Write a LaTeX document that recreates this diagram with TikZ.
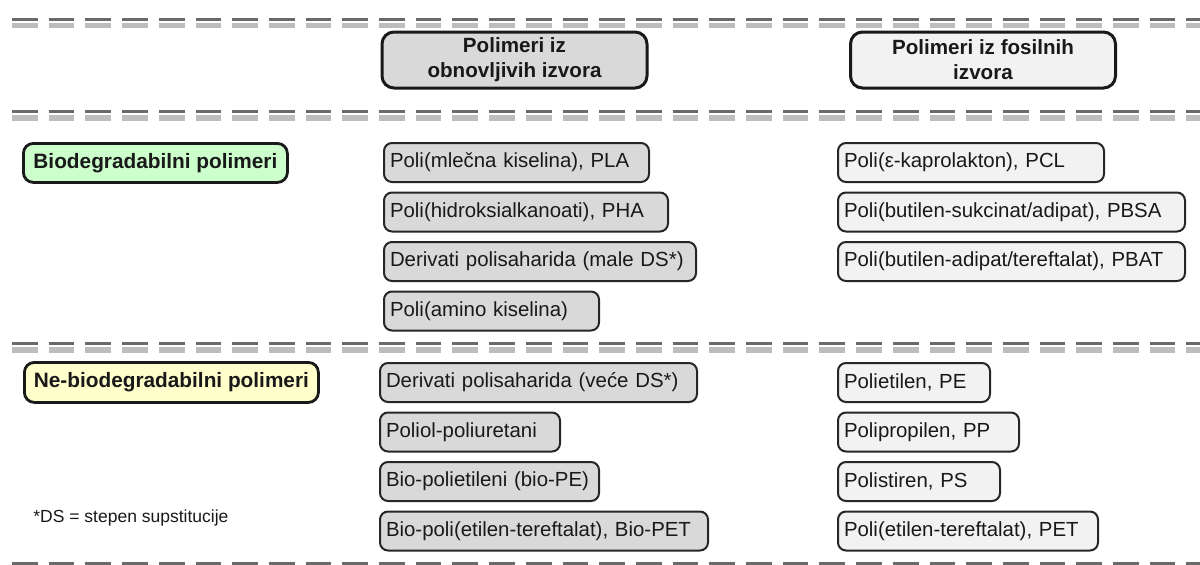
\documentclass[tikz,border=0pt]{standalone}
\usepackage{fontspec}
\setmainfont{Liberation Sans}
\usepackage{tikz}
\usetikzlibrary{positioning}
\definecolor{renfill}{HTML}{D9D9D9}
\definecolor{fosfill}{HTML}{F2F2F2}
\definecolor{biofill}{HTML}{CCFFCC}
\definecolor{nbiofill}{HTML}{FFFFCC}
\definecolor{ruledark}{HTML}{6A6A6A}
\definecolor{rulelight}{HTML}{BDBDBD}
\tikzset{
  polynode/.style = {inner sep=0pt, text=black!90,
    font=\fontsize{10.2}{12}\selectfont},
  item_r/.style = {polynode, rectangle, rounded corners=4pt, draw=black!85,
    line width=1pt, fill=renfill, inner xsep=3pt, minimum height=19.5pt,
    text width=#1, align=left, anchor=north west},% stavka, obnovljivi izvori
  item_f/.style = {item_r=#1, fill=fosfill},% stavka, fosilni izvori
  head_r/.style = {polynode, rectangle, rounded corners=6pt, draw=black!90,
    line width=1.5pt, fill=renfill, minimum width=132.5pt, minimum height=28pt,
    align=center, font=\bfseries\fontsize{10.3}{12.5}\selectfont},% zaglavlje, obnovljivi
  head_f/.style = {head_r, fill=fosfill},% zaglavlje, fosilni
  cat_b/.style = {polynode, rectangle, rounded corners=5pt, draw=black!90,
    line width=1.4pt, fill=biofill, minimum height=19.5pt, anchor=north west,
    font=\bfseries\fontsize{10.4}{12}\selectfont},% kategorija, biodegradabilni
  cat_n/.style = {cat_b, fill=nbiofill},% kategorija, ne-biodegradabilni
  rule_hi/.style = {draw=ruledark, line width=1.5pt,
    dash pattern=on 12.85pt off 5.5pt},
  rule_lo/.style = {draw=rulelight, line width=2.6pt,
    dash pattern=on 12.85pt off 5.5pt}
}
\begin{document}
\begin{tikzpicture}[x=0.5pt,y=-0.5pt]
        \useasboundingbox (0,0) rectangle (1200,564);
        % razdelne linije
        \foreach \ry in {19,111.5,343.5,563}{
            \draw [rule_lo] (12,\ry+6.5) -- (1200,\ry+6.5);
            \draw [rule_hi] (12,\ry) -- (1200,\ry);
        }
        % zaglavlja
        \node [head_r] (hren) at (514.5,60) {Polimeri iz\\obnovljivih izvora};
        \node [head_f] (hfos) at (983,60) {Polimeri iz fosilnih\\izvora};
        % kategorije
        \node [cat_b, minimum width=132pt] (bio) at (22,142) {Biodegradabilni polimeri};
        \node [cat_n, minimum width=147pt, minimum height=20pt] (nbio) at (23,361)
            {Ne-biodegradabilni polimeri};
        \node [polynode, anchor=west, font=\fontsize{8.75}{10}\selectfont] (dsnote)
            at (33,518) {*DS = stepen supstitucije};
        % biodegradabilni, obnovljivi
        \node [item_r=126.5pt] (pla) at (383,142) {Poli(mlečna kiselina), PLA};
            \node [item_r=136pt, below=4.25pt of pla.south west, anchor=north west] (pha)
                {Poli(hidroksialkanoati), PHA};
                \node [item_r=150pt, below=4.25pt of pha.south west, anchor=north west] (dsmale)
                    {Derivati polisaharida (male DS*)};
                    \node [item_r=101.5pt, below=4.25pt of dsmale.south west, anchor=north west] (amino)
                        {Poli(amino kiselina)};
        % biodegradabilni, fosilni
        \node [item_f=127pt] (pcl) at (837,142) {Poli(ε-kaprolakton), PCL};
            \node [item_f=167.5pt, below=4.25pt of pcl.south west, anchor=north west] (pbsa)
                {Poli(butilen-sukcinat/adipat), PBSA};
                \node [item_f=167.5pt, below=4.25pt of pbsa.south west, anchor=north west] (pbat)
                    {Poli(butilen-adipat/tereftalat), PBAT};
        % ne-biodegradabilni, obnovljivi
        \node [item_r=152.5pt] (dsvece) at (379,362) {Derivati polisaharida (veće DS*)};
            \node [item_r=84pt, below=4.25pt of dsvece.south west, anchor=north west] (ppu)
                {Poliol-poliuretani};
                \node [item_r=103.5pt, below=4.25pt of ppu.south west, anchor=north west] (biope)
                    {Bio-polietileni (bio-PE)};
                    \node [item_r=158pt, below=4.25pt of biope.south west, anchor=north west] (biopet)
                        {Bio-poli(etilen-tereftalat), Bio-PET};
        % ne-biodegradabilni, fosilni
        \node [item_f=70pt] (pe) at (837,362) {Polietilen, PE};
            \node [item_f=84.5pt, below=4.25pt of pe.south west, anchor=north west] (pp)
                {Polipropilen, PP};
                \node [item_f=75pt, below=4.25pt of pp.south west, anchor=north west] (ps)
                    {Polistiren, PS};
                    \node [item_f=124pt, below=4.25pt of ps.south west, anchor=north west] (pet)
                        {Poli(etilen-tereftalat), PET};
\end{tikzpicture}
\end{document}
